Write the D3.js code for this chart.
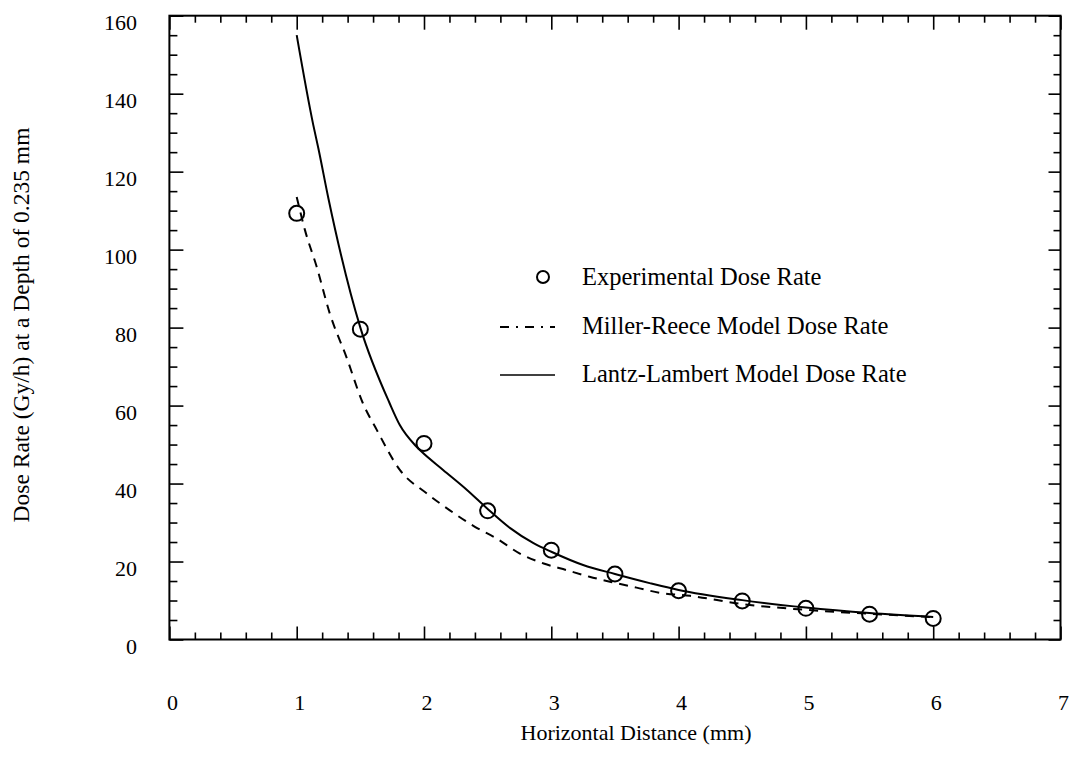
<!DOCTYPE html>
<html>
<head>
<meta charset="utf-8">
<script src="https://cdn.jsdelivr.net/npm/d3@7"></script>
<style>
  body { margin: 0; background: #fff; }
  text { font-family: "Liberation Serif", "Times New Roman", serif; fill: #000; }
</style>
</head>
<body>
<div id="chart"></div>
<script>
// experimental points
var expX = [1, 1.5, 2, 2.5, 3, 3.5, 4, 4.5, 5, 5.5, 6];
var expY = [109.3, 79.6, 50.3, 33, 22.9, 16.8, 12.5, 9.9, 8.0, 6.5, 5.4];

// Miller-Reece model (dashed)
var mrX = [1.0, 1.065, 1.157, 1.26, 1.39, 1.52, 1.63, 1.81, 2.02, 2.2, 2.4, 2.57, 2.75, 2.94, 3.12, 3.3, 3.49, 3.67, 3.85, 4.09, 4.5, 5.0, 5.5, 6.0];
var mrY = [113.5, 105, 95.6, 83.6, 72.5, 60.6, 53.7, 43.5, 37.5, 33.2, 28.9, 25.9, 22.1, 19.5, 17.8, 16.1, 14.6, 13.3, 12.0, 11.2, 9.1, 7.6, 6.6, 5.7];

// Lantz-Lambert model (solid)
var llX = [1.0, 1.13, 1.17, 1.25, 1.5, 1.73, 1.81, 1.94, 1.98, 2.15, 2.34, 2.5, 2.68, 2.86, 3.0, 3.25, 3.5, 3.78, 4.0, 4.5, 5.0, 5.5, 6.0];
var llY = [155, 132, 126, 113, 80, 60.6, 55, 49.5, 48.2, 43.5, 38.3, 33.5, 28.5, 24.7, 22.5, 19.1, 16.8, 14.4, 12.7, 10.1, 8.2, 6.8, 5.8];

var xTicks = [0, 1, 2, 3, 4, 5, 6, 7];
var yTicks = [0, 20, 40, 60, 80, 100, 120, 140, 160];
var legendLabels = ["Experimental Dose Rate", "Miller-Reece Model Dose Rate", "Lantz-Lambert Model Dose Rate"];

var width = 1072, height = 762;
var plotL = 169.4, plotR = 1060.5, plotT = 15.7, plotB = 639.5;

var svg = d3.select('#chart')
  .append('svg')
  .attr('width', width)
  .attr('height', height);

var x = d3.scaleLinear().domain([0, 7]).range([plotL, plotR]);
var y = d3.scaleLinear().domain([0, 160]).range([plotB, plotT]);

var minorX = d3.range(0, 7.001, 0.2).filter(function (v) { return Math.abs(v - Math.round(v)) > 1e-6; });
var minorY = d3.range(0, 160.001, 5).filter(function (v) { return v % 20 !== 0; });

function styleAxis(g) {
  g.select('.domain').remove();
  g.selectAll('.tick line').attr('stroke', '#000').attr('stroke-width', 1.6);
  g.selectAll('.tick text').remove();
}

// major + minor ticks, all pointing inward
svg.append('g').attr('transform', 'translate(0,' + plotB + ')')
  .call(d3.axisBottom(x).tickValues(xTicks).tickSize(-13)).call(styleAxis);
svg.append('g').attr('transform', 'translate(0,' + plotB + ')')
  .call(d3.axisBottom(x).tickValues(minorX).tickSize(-7)).call(styleAxis);
svg.append('g').attr('transform', 'translate(0,' + plotT + ')')
  .call(d3.axisTop(x).tickValues(xTicks).tickSize(-14)).call(styleAxis);
svg.append('g').attr('transform', 'translate(0,' + plotT + ')')
  .call(d3.axisTop(x).tickValues(minorX).tickSize(-7)).call(styleAxis);
svg.append('g').attr('transform', 'translate(' + plotL + ',0)')
  .call(d3.axisLeft(y).tickValues(yTicks).tickSize(-14)).call(styleAxis);
svg.append('g').attr('transform', 'translate(' + plotL + ',0)')
  .call(d3.axisLeft(y).tickValues(minorY).tickSize(-8)).call(styleAxis);
svg.append('g').attr('transform', 'translate(' + plotR + ',0)')
  .call(d3.axisRight(y).tickValues(yTicks).tickSize(-12)).call(styleAxis);
svg.append('g').attr('transform', 'translate(' + plotR + ',0)')
  .call(d3.axisRight(y).tickValues(minorY).tickSize(-7)).call(styleAxis);

// frame
svg.append('rect')
  .attr('x', plotL).attr('y', plotT)
  .attr('width', plotR - plotL).attr('height', plotB - plotT)
  .attr('fill', 'none').attr('stroke', '#000').attr('stroke-width', 2);

// tick labels
svg.selectAll('.xlab').data(xTicks).enter().append('text')
  .attr('x', function (d) { return x(d) + 3; })
  .attr('y', 710)
  .attr('text-anchor', 'middle')
  .style('font-size', '22px')
  .text(function (d) { return d; });

svg.selectAll('.ylab').data(yTicks).enter().append('text')
  .attr('x', 137)
  .attr('y', function (d) { return y(d) + 14.5; })
  .attr('text-anchor', 'end')
  .style('font-size', '22px')
  .text(function (d) { return d; });

// axis titles
svg.append('text')
  .attr('x', 636).attr('y', 740)
  .attr('text-anchor', 'middle')
  .style('font-size', '22px')
  .text('Horizontal Distance (mm)');

svg.append('text')
  .attr('transform', 'translate(29,325) rotate(-90)')
  .attr('text-anchor', 'middle')
  .style('font-size', '23.5px')
  .text('Dose Rate (Gy/h) at a Depth of 0.235 mm');

// curves
var line = d3.line()
  .x(function (d) { return x(d[0]); })
  .y(function (d) { return y(d[1]); })
  .curve(d3.curveMonotoneX);

svg.append('path')
  .datum(d3.zip(mrX, mrY))
  .attr('d', line)
  .attr('fill', 'none')
  .attr('stroke', '#000')
  .attr('stroke-width', 2)
  .attr('stroke-dasharray', '9,7');

svg.append('path')
  .datum(d3.zip(llX, llY))
  .attr('d', line)
  .attr('fill', 'none')
  .attr('stroke', '#000')
  .attr('stroke-width', 2);

svg.selectAll('.pt').data(d3.zip(expX, expY)).enter().append('circle')
  .attr('cx', function (d) { return x(d[0]); })
  .attr('cy', function (d) { return y(d[1]); })
  .attr('r', 7.5)
  .attr('fill', 'none')
  .attr('stroke', '#000')
  .attr('stroke-width', 2);

// legend
var lg = svg.append('g');
lg.append('circle').attr('cx', 543).attr('cy', 277).attr('r', 6)
  .attr('fill', 'none').attr('stroke', '#000').attr('stroke-width', 2);
lg.append('line').attr('x1', 500).attr('x2', 555).attr('y1', 327).attr('y2', 327)
  .attr('stroke', '#000').attr('stroke-width', 2).attr('stroke-dasharray', '9,7,2,7');
lg.append('line').attr('x1', 500).attr('x2', 555).attr('y1', 375).attr('y2', 375)
  .attr('stroke', '#000').attr('stroke-width', 1.5);
lg.selectAll('.lt').data(legendLabels).enter().append('text')
  .attr('x', 582)
  .attr('y', function (d, i) { return 285 + i * 48.5; })
  .style('font-size', '24.5px')
  .text(function (d) { return d; });
</script>
</body>
</html>
